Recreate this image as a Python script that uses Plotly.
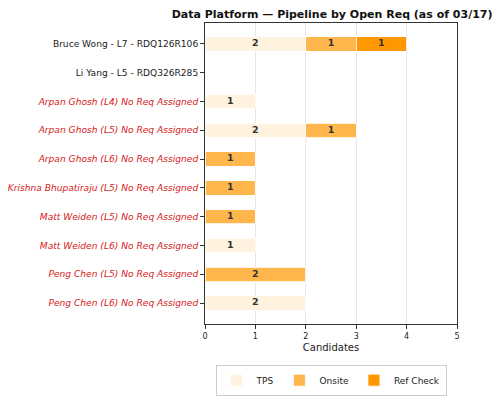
import plotly.graph_objects as go

labels = [
    "Bruce Wong - L7 - RDQ126R106",
    "Li Yang - L5 - RDQ326R285",
    "Arpan Ghosh (L4) No Req Assigned",
    "Arpan Ghosh (L5) No Req Assigned",
    "Arpan Ghosh (L6) No Req Assigned",
    "Krishna Bhupatiraju (L5) No Req Assigned",
    "Matt Weiden (L5) No Req Assigned",
    "Matt Weiden (L6) No Req Assigned",
    "Peng Chen (L5) No Req Assigned",
    "Peng Chen (L6) No Req Assigned",
]
no_req = [False, False, True, True, True, True, True, True, True, True]
tps = [2, 0, 1, 2, 0, 0, 0, 1, 0, 2]
onsite = [1, 0, 0, 1, 1, 1, 1, 0, 2, 0]
ref_check = [1, 0, 0, 0, 0, 0, 0, 0, 0, 0]
stages = ["TPS", "Onsite", "Ref Check"]
colors = ["#FFF3E0", "#FFB74D", "#FF9800"]

FONT = "DejaVu Sans"
ypos = list(range(len(labels)))
ticktext = [
    (f'<span style="color:#D62020"><i>{l}</i></span>' if nr else l)
    for l, nr in zip(labels, no_req)
]

fig = go.Figure()
base = [0] * len(labels)
tx, ty, tt = [], [], []
for name, vals, col in zip(stages, [tps, onsite, ref_check], colors):
    xs = [v if v else None for v in vals]
    fig.add_trace(go.Bar(
        name=name, orientation="h", y=ypos, x=xs, width=0.5,
        marker=dict(color=col, line=dict(color="white", width=0.8)),
        textposition="none", hoverinfo="x+name",
    ))
    for i, v in enumerate(vals):
        if v:
            tx.append(base[i] + v / 2)
            ty.append(i)
            tt.append(f"<b>{v}</b>")
        base[i] += v

fig.add_trace(go.Scatter(
    x=tx, y=ty, text=tt, mode="text", showlegend=False, hoverinfo="skip",
    textfont=dict(family=FONT, size=9.5, color="#333333"),
))

fig.update_layout(
    barmode="stack",
    width=500, height=396,
    margin=dict(l=205, r=43, t=23, b=72, autoexpand=False),
    paper_bgcolor="white", plot_bgcolor="white",
    font=dict(family=FONT, size=9, color="#222222"),
    title=dict(text="<b>Data Platform — Pipeline by Open Req (as of 03/17)</b>",
               font=dict(family=FONT, size=11, color="#111111"),
               x=0.985, xanchor="right", y=0.975, yanchor="top"),
    showlegend=True,
    legend=dict(orientation="h", x=0.5, xanchor="center", y=0.04, yanchor="middle",
                xref="paper", yref="container",
                bordercolor="#CCCCCC", borderwidth=1, itemwidth=30,
                font=dict(family=FONT, size=9), traceorder="normal"),
)
fig.update_xaxes(range=[0, 5], dtick=1, tickfont=dict(size=8),
                 showgrid=True, gridcolor="#E6E6E6", gridwidth=1,
                 ticks="outside", ticklen=4, tickcolor="#333", linecolor="#333",
                 linewidth=1, mirror=True, showline=True, zeroline=False,
                 title=dict(text="Candidates", font=dict(size=10), standoff=4))
fig.update_yaxes(range=[9.725, -0.725], tickvals=ypos, ticktext=ticktext,
                 tickfont=dict(size=9.1), ticks="outside", ticklen=4, tickcolor="#333",
                 linecolor="#333", linewidth=1, mirror=True, showline=True,
                 showgrid=False, zeroline=False)

fig.write_html("out.html")
